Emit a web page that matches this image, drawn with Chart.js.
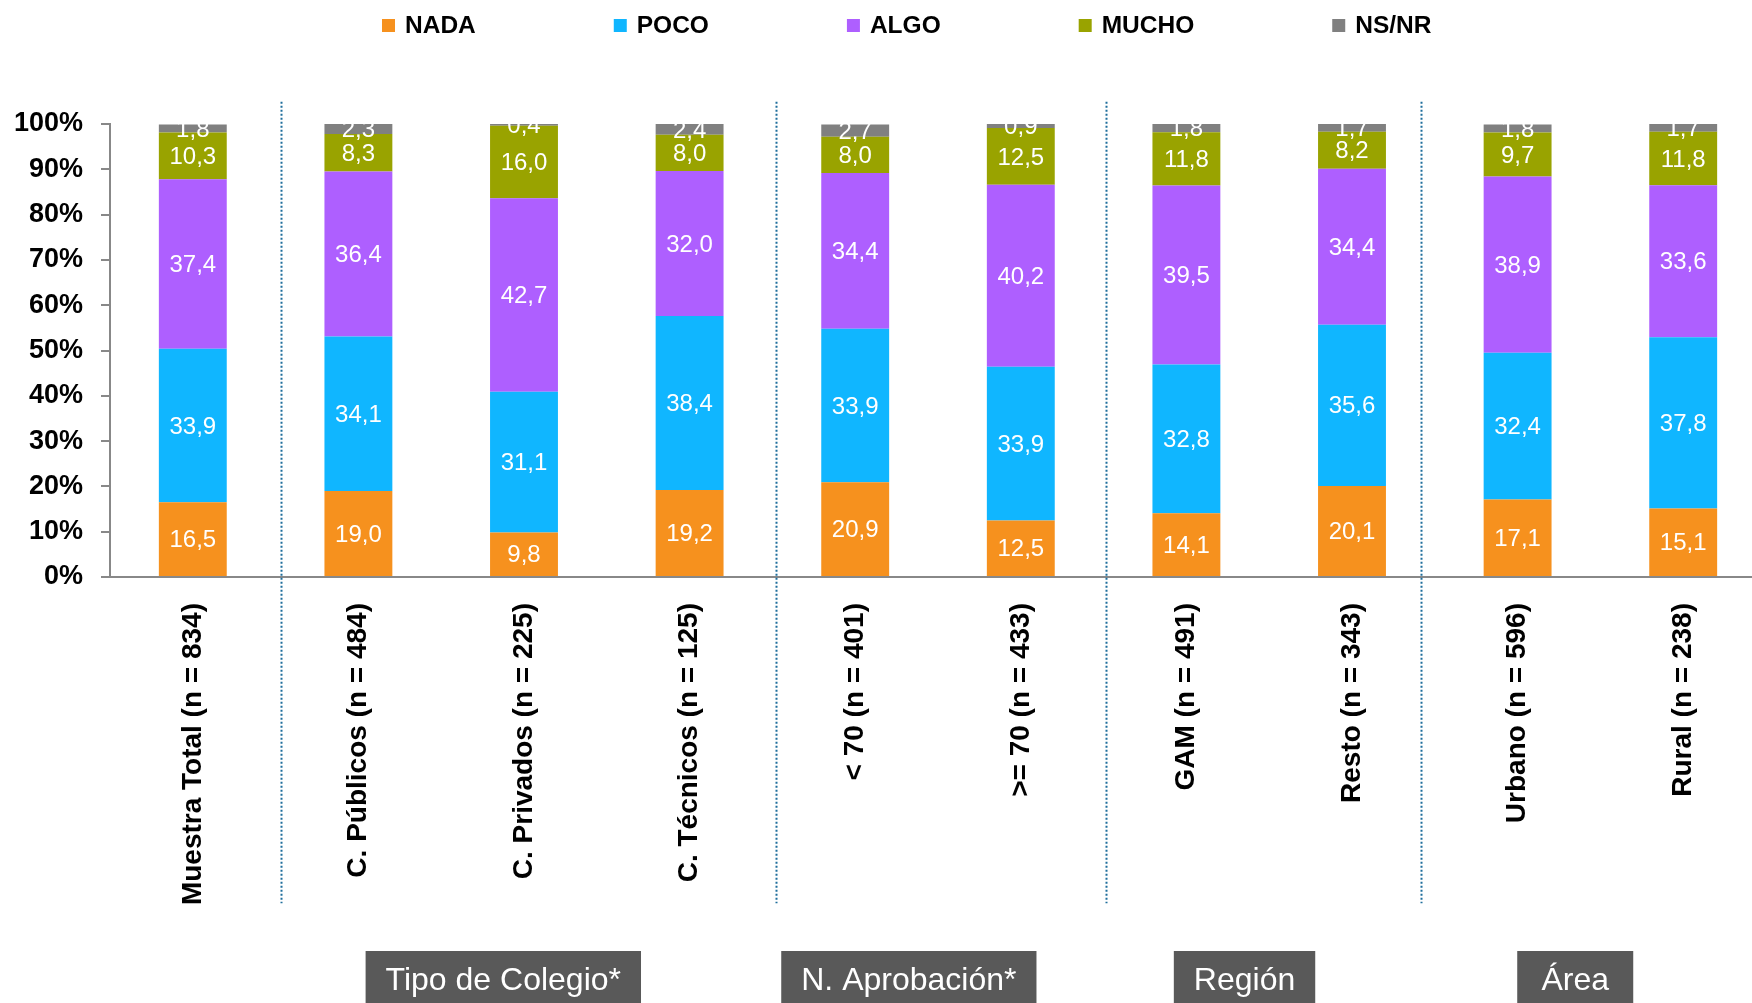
<!DOCTYPE html>
<html>
<head>
<meta charset="utf-8">
<script src="https://cdn.jsdelivr.net/npm/chart.js@4.4.1/dist/chart.umd.min.js"></script>
<style>
  html, body { margin: 0; padding: 0; background: #ffffff; overflow: hidden; width: 1752px; height: 1003px; }
  canvas { display: block; }
</style>
</head>
<body>
<canvas id="c" width="1766" height="1003"></canvas>
<script>
// ---------- DATA ----------
const categories = [
  'Muestra Total (n = 834)', 'C. Públicos (n = 484)', 'C. Privados (n = 225)', 'C. Técnicos (n = 125)',
  '< 70 (n = 401)', '>= 70 (n = 433)', 'GAM (n = 491)', 'Resto (n = 343)', 'Urbano (n = 596)', 'Rural (n = 238)'
];
const seriesNames = ['NADA', 'POCO', 'ALGO', 'MUCHO', 'NS/NR'];
const nada  = [16.5, 19.0,  9.8, 19.2, 20.9, 12.5, 14.1, 20.1, 17.1, 15.1];
const poco  = [33.9, 34.1, 31.1, 38.4, 33.9, 33.9, 32.8, 35.6, 32.4, 37.8];
const algo  = [37.4, 36.4, 42.7, 32.0, 34.4, 40.2, 39.5, 34.4, 38.9, 33.6];
const mucho = [10.3,  8.3, 16.0,  8.0,  8.0, 12.5, 11.8,  8.2,  9.7, 11.8];
const nsnr  = [ 1.8,  2.3,  0.4,  2.4,  2.7,  0.9,  1.8,  1.7,  1.8,  1.7];
const yTickLabels = ['0%', '10%', '20%', '30%', '40%', '50%', '60%', '70%', '80%', '90%', '100%'];
const groupLabels = ['Tipo de Colegio*', 'N. Aprobación*', 'Región', 'Área'];
// positions in category-index units along the x scale
const groupCenters = [1.875, 4.324, 6.351, 8.348];
const dividerPositions = [0.535, 3.524, 5.513, 7.417];

// ---------- STYLE ----------
const FONT = '"Liberation Sans", Arial, Helvetica, sans-serif';
const colors = ['#F6911E', '#10B6FF', '#AE5FFF', '#99A300', '#808080'];
Chart.defaults.font.family = FONT;

const seriesData = [nada, poco, algo, mucho, nsnr];

const overlay = {
  id: 'overlay',
  afterDatasetsDraw(chart) {
    const ctx = chart.ctx;
    ctx.save();
    ctx.font = '24px ' + FONT;
    ctx.fillStyle = '#ffffff';
    ctx.textAlign = 'center';
    ctx.textBaseline = 'middle';
    chart.data.datasets.forEach((ds, di) => {
      const meta = chart.getDatasetMeta(di);
      meta.data.forEach((bar, i) => {
        const v = ds.data[i];
        const yc = (bar.y + bar.base) / 2;
        ctx.fillText(v.toFixed(1).replace('.', ','), bar.x, yc + 1.5);
      });
    });
    ctx.restore();
  },
  afterDraw(chart) {
    const ctx = chart.ctx;
    const xs = chart.scales.x, ys = chart.scales.y;
    ctx.save();
    // dotted dividers
    ctx.strokeStyle = '#1F6E9C';
    ctx.lineWidth = 2;
    ctx.setLineDash([2, 2]);
    dividerPositions.forEach(p => {
      const x = Math.round(xs.getPixelForValue(p)) + 0.5;
      ctx.beginPath();
      ctx.moveTo(x, ys.getPixelForValue(104.9));
      ctx.lineTo(x, ys.getPixelForValue(-72.0));
      ctx.stroke();
    });
    ctx.setLineDash([]);
    // group boxes
    ctx.font = '32px ' + FONT;
    ctx.textAlign = 'center';
    ctx.textBaseline = 'middle';
    groupLabels.forEach((g, i) => {
      const cx = xs.getPixelForValue(groupCenters[i]);
      const w = Math.max(ctx.measureText(g).width + 40, 116);
      ctx.fillStyle = '#595959';
      ctx.fillRect(cx - w / 2, 951, w, 60);
      ctx.fillStyle = '#ffffff';
      ctx.fillText(g, cx, 981);
    });
    // legend
    ctx.font = 'bold 24.5px ' + FONT;
    ctx.textAlign = 'left';
    let lx = 382;
    chart.data.datasets.forEach(ds => {
      ctx.fillStyle = ds.backgroundColor;
      ctx.fillRect(lx, 19, 13, 13);
      ctx.fillStyle = '#000000';
      ctx.fillText(ds.label, lx + 23, 26);
      lx += 23 + ctx.measureText(ds.label).width + 138;
    });
    ctx.restore();
  }
};

new Chart(document.getElementById('c'), {
  type: 'bar',
  data: {
    labels: categories,
    datasets: seriesNames.map((name, i) => ({
      label: name,
      data: seriesData[i],
      backgroundColor: colors[i],
      borderWidth: 0,
      barPercentage: 0.41,
      categoryPercentage: 1.0
    }))
  },
  options: {
    responsive: false,
    animation: false,
    layout: { padding: { top: 124, left: 0, right: 0, bottom: 0 } },
    plugins: {
      legend: { display: false },
      tooltip: { enabled: false }
    },
    scales: {
      x: {
        stacked: true,
        offset: true,
        grid: { display: false, drawTicks: false },
        border: { display: true, color: '#888888', width: 2 },
        ticks: {
          autoSkip: false,
          minRotation: 90,
          maxRotation: 90,
          padding: 26,
          color: '#000000',
          font: { family: FONT, size: 28, weight: 'bold' }
        },
        afterFit(s) { s.height = 426; s.paddingLeft = 0; s.paddingRight = 0; }
      },
      y: {
        stacked: true,
        min: 0,
        max: 100,
        ticks: {
          stepSize: 10,
          padding: 18,
          color: '#000000',
          font: { family: FONT, size: 27, weight: 'bold' },
          callback: (v, i) => yTickLabels[i]
        },
        grid: { drawOnChartArea: false, drawTicks: true, tickLength: 9, color: '#888888', lineWidth: 2 },
        border: { display: true, color: '#888888', width: 2 },
        afterFit(s) { s.width = 110; }
      }
    }
  },
  plugins: [overlay]
});
</script>
</body>
</html>
